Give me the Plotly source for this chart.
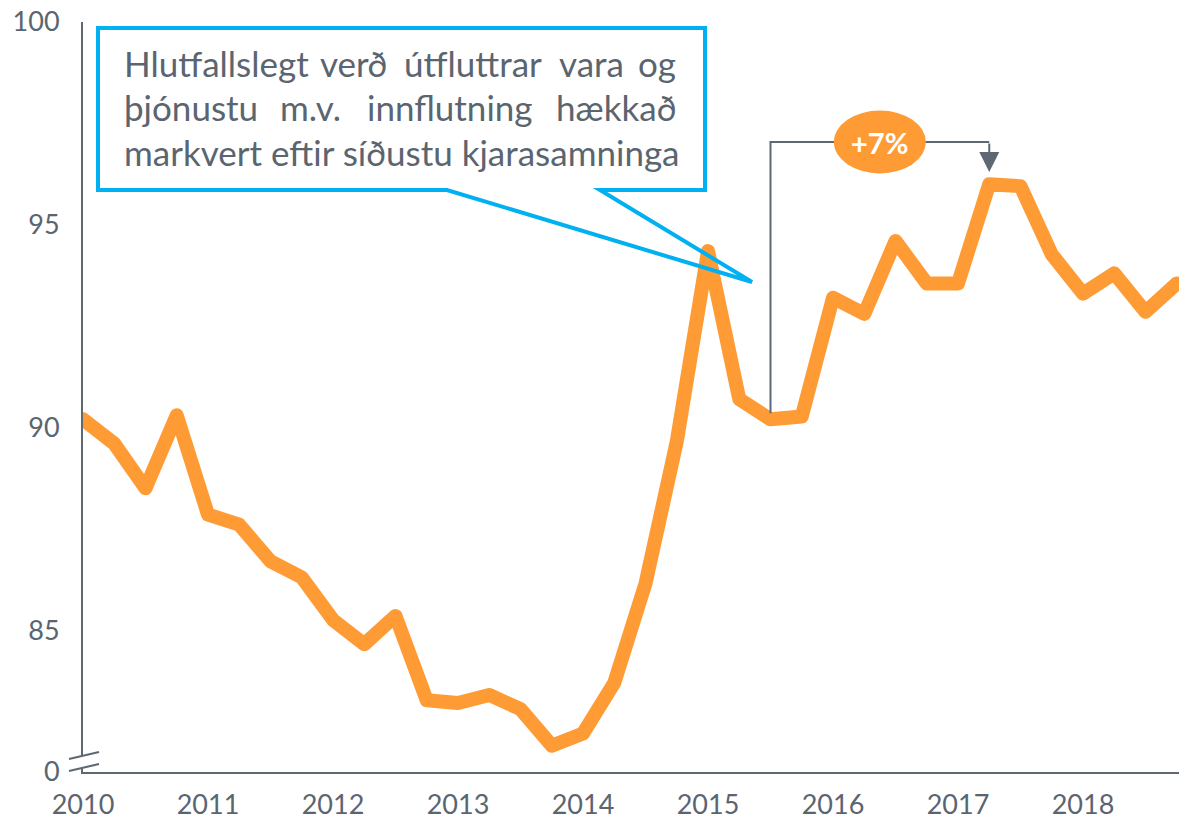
import plotly.graph_objects as go

# ---- data ----
periods = [f"{y}Q{q}" for y in range(2010, 2019) for q in range(1, 5)]
values = [90.2, 89.6, 88.5, 90.3,
          87.85, 87.6, 86.7, 86.3,
          85.25, 84.65, 85.35, 83.27,
          83.2, 83.4, 83.05, 82.15,
          82.45, 83.7, 86.15, 89.65,
          94.35, 90.7, 90.2, 90.27,
          93.2, 92.8, 94.6, 93.55,
          93.55, 96.0, 95.95, 94.27,
          93.3, 93.8, 92.85, 93.55]
year_ticks = [2010, 2011, 2012, 2013, 2014, 2015, 2016, 2017, 2018]
y_tickvals = [81.5, 85, 90, 95, 100]
y_ticktext = ["0", "85", "90", "95", "100"]
callout_lines = [
    ["Hlutfallslegt", "verð", "útfluttrar", "vara", "og"],
    ["þjónustu", "m.v.", "innflutning", "hækkað"],
    ["markvert eftir síðustu kjarasamninga"],
]
change_label = "+7%"
bracket_from, bracket_to = "2015Q3", "2017Q2"

xs = [int(p[:4]) + (int(p[-1]) - 1) / 4 for p in periods]

ORANGE = "#ff9b35"
GREY = "#5d6873"
TEXT = "#5a6570"
BLUE = "#00b0f0"
FONT = "Lato"

# plot-area geometry (pixels)
W, H = 1179, 821
L, T, R, B = 83, 22, 1179, 772


def pp(px, py):
    return (px - L) / (R - L), (B - py) / (B - T)


fig = go.Figure()
fig.add_trace(go.Scatter(
    x=xs, y=values, mode="lines",
    line=dict(color=ORANGE, width=14),
    hoverinfo="skip", showlegend=False,
))

shapes = []
annotations = []

# axis break marks
shapes.append(dict(type="path", xref="paper", yref="y", xsizemode="pixel", ysizemode="pixel",
                   xanchor=0, yanchor=81.5, path="M -14,1 L 16,8 L 16,20 L -14,13 Z",
                   fillcolor="white", line=dict(width=0), layer="above"))
for off in (1, 13):
    shapes.append(dict(type="line", xref="paper", yref="y", xsizemode="pixel", ysizemode="pixel",
                       xanchor=0, yanchor=81.5, x0=-14, y0=off, x1=16, y1=off + 7,
                       line=dict(color=GREY, width=2), layer="above"))

# bracket +7%
i0, i1 = periods.index(bracket_from), periods.index(bracket_to)
ybr = 97.04
shapes.append(dict(type="path", xref="x", yref="y",
                   path=f"M {xs[i0]},{values[i0] + 0.15} L {xs[i0]},{ybr} L {xs[i1]},{ybr}",
                   line=dict(color=GREY, width=2), layer="above"))
annotations.append(dict(x=xs[i1], y=values[i1] + 0.3, ax=xs[i1], ay=ybr, axref="x", ayref="y",
                        xref="x", yref="y", text="", showarrow=True, arrowhead=2, arrowsize=2,
                        arrowwidth=2, arrowcolor=GREY, standoff=0))
cx = (xs[i0] + xs[i1]) / 2
shapes.append(dict(type="circle", xref="x", yref="y", xsizemode="pixel", ysizemode="pixel",
                   xanchor=cx, yanchor=ybr, x0=-46, x1=46, y0=-31.5, y1=31.5,
                   fillcolor=ORANGE, line=dict(width=0), layer="above"))
annotations.append(dict(x=cx, y=ybr, xref="x", yref="y", text=f"<b>{change_label}</b>",
                        showarrow=False, font=dict(family=FONT, size=29, color="white")))

# callout box with tail
pts = [(98, 28), (705, 28), (705, 190), (600, 190), (752, 282), (447, 190), (98, 190)]
path = "M " + " L ".join(f"{pp(a, b)[0]:.5f},{pp(a, b)[1]:.5f}" for a, b in pts) + " Z"
shapes.append(dict(type="path", xref="paper", yref="paper", path=path,
                   line=dict(color=BLUE, width=4), fillcolor="rgba(0,0,0,0)", layer="above"))

# justified callout text (word anchors in pixels)
line_y = [63, 107, 152]
word_pos = [
    [("l", 122), ("c", 353), ("c", 473), ("c", 591), ("r", 678)],
    [("l", 122), ("c", 310), ("c", 450), ("r", 678)],
    [("l", 122)],
]
anch = {"l": "left", "c": "center", "r": "right"}
for words, pos, ly in zip(callout_lines, word_pos, line_y):
    for w, (a, px) in zip(words, pos):
        x_, y_ = pp(px, ly)
        annotations.append(dict(x=x_, y=y_, xref="paper", yref="paper", text=w, showarrow=False,
                                xanchor=anch[a], yanchor="middle",
                                font=dict(family=FONT, size=35, color=TEXT)))

fig.update_layout(
    width=W, height=H, autosize=False,
    margin=dict(l=L, r=W - R, t=T, b=H - B, pad=0),
    paper_bgcolor="white", plot_bgcolor="white",
    shapes=shapes, annotations=annotations,
    xaxis=dict(range=[2010, 2010 + (R - L) / 125], tickvals=year_ticks,
               ticktext=[str(y) for y in year_ticks], showgrid=False, zeroline=False,
               showline=True, linecolor=GREY, linewidth=2, ticks="", ticklabelstandoff=8,
               tickfont=dict(family=FONT, size=27, color=TEXT)),
    yaxis=dict(range=[81.5, 100], tickvals=y_tickvals, ticktext=y_ticktext,
               showgrid=False, zeroline=False, showline=True, linecolor=GREY, linewidth=2,
               ticks="", ticklabelstandoff=16,
               tickfont=dict(family=FONT, size=27, color=TEXT)),
)

post = ("document.body.style.margin='0';document.body.style.overflow='hidden';"
        "document.querySelectorAll('.scatterlayer path.js-line').forEach(function(p){"
        "p.style.strokeLinejoin='round';p.style.strokeLinecap='round';});")
fig.write_html("out.html", config={"displayModeBar": False}, post_script=post)
